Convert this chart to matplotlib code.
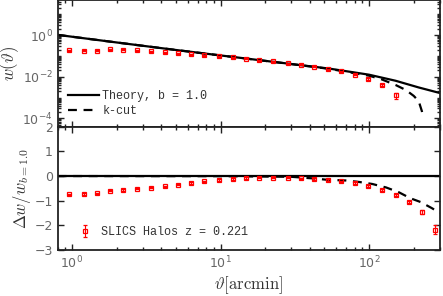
import numpy as np
import matplotlib
matplotlib.use("Agg")
import matplotlib.pyplot as plt
from matplotlib.ticker import LogLocator, NullFormatter, FixedLocator

# ---- data ----
theta_data = [0.95, 1.2, 1.47, 1.8, 2.22, 2.72, 3.43, 4.21, 5.17, 6.35, 7.79, 9.8,
              12.1, 14.8, 18.2, 22.5, 28.4, 34.9, 42.9, 52.6, 64.7, 80.6, 98.9,
              122.7, 151, 185, 227, 279]
w_data = [0.19, 0.176, 0.176, 0.21, 0.196, 0.19, 0.164, 0.147, 0.136, 0.122, 0.11,
          0.0946, 0.0847, 0.0725, 0.0628, 0.0544, 0.0436, 0.0373, 0.0299, 0.0232,
          0.018, 0.0123, 0.00767, 0.00408, 0.0013]
w_err = [0.012, 0.011, 0.011, 0.013, 0.012, 0.012, 0.01, 0.009, 0.008, 0.007, 0.006,
         0.005, 0.0045, 0.004, 0.0035, 0.003, 0.0025, 0.002, 0.0017, 0.0014,
         0.0011, 0.0008, 0.0006, 0.0004, 0.0004]
dw_data = [-0.74, -0.73, -0.70, -0.59, -0.57, -0.51, -0.47, -0.42, -0.35, -0.28,
           -0.22, -0.15, -0.11, -0.08, -0.065, -0.065, -0.065, -0.09, -0.12, -0.16,
           -0.22, -0.28, -0.42, -0.57, -0.78, -1.04, -1.46, -2.17]
dw_err = [0.03, 0.03, 0.03, 0.03, 0.03, 0.03, 0.03, 0.03, 0.03, 0.03, 0.03, 0.03,
          0.03, 0.03, 0.03, 0.03, 0.03, 0.03, 0.03, 0.03, 0.03, 0.035, 0.04, 0.04,
          0.045, 0.05, 0.07, 0.18]

theta_th = [0.8, 1.0, 2.0, 5.0, 10.0, 27.7, 54.0, 100.0, 151.0, 216.0, 300.0]
w_th = [1.02, 0.83, 0.44, 0.192, 0.105, 0.0436, 0.0245, 0.0125, 0.0064, 0.00305, 0.00165]

theta_kc = [0.8, 1.0, 2.0, 5.0, 10.0, 27.7, 54.0, 100.0, 122.0, 151.0, 177.0, 200.0, 216.0, 227.0, 231.0]
w_kc = [1.02, 0.83, 0.44, 0.192, 0.105, 0.0433, 0.0238, 0.0112, 0.0074, 0.0040, 0.0023,
        0.0012, 0.00067, 0.00022, 0.00011]

theta_kc_r = [0.8, 1.0, 10.0, 30.0, 43.0, 52.0, 70.0, 86.0, 105.0, 130.0, 158.0, 190.0, 222.0, 265.0, 300.0]
dw_kc = [0.0, 0.0, -0.005, -0.03, -0.1, -0.15, -0.18, -0.24, -0.32, -0.46, -0.65, -0.9, -1.05, -1.3, -1.5]

theta_zero = [0.8, 300.0]
dw_zero = [0.0, 0.0]

# ---- figure ----
plt.rcParams['mathtext.fontset'] = 'cm'
fig = plt.figure(figsize=(4.43, 2.96), dpi=100)
ax1 = fig.add_axes([0.13, 0.572, 0.863, 0.428])
ax2 = fig.add_axes([0.13, 0.155, 0.863, 0.417], sharex=ax1)

tick_col = '#666666'
mono = ['Liberation Mono', 'DejaVu Sans Mono']

ax1.plot(theta_th, w_th, color='black', lw=1.6, label='Theory, b = 1.0')
ax1.plot(theta_kc, w_kc, color='black', lw=1.6, ls=(0, (4, 3)), label='k-cut')
n = len(w_data)
ax1.errorbar(theta_data[:n], w_data, yerr=w_err, fmt='s', ms=3.5, mfc='none',
             mec='red', ecolor='red', elinewidth=0.8, capsize=1.2, mew=0.9)
ax1.set_xscale('log')
ax1.set_yscale('log')
ax1.set_xlim(0.8, 300)
ax1.set_ylim(4e-5, 48)
ax1.yaxis.set_major_locator(FixedLocator([1e-4, 1e-2, 1e0]))
ax1.yaxis.set_minor_locator(LogLocator(base=10, subs=np.arange(1, 10), numticks=30))
ax1.yaxis.set_minor_formatter(NullFormatter())
ax1.set_ylabel(r'$w(\vartheta)$', fontsize=12, color='#333333', labelpad=1)
leg1 = ax1.legend(loc='lower left', frameon=False, prop={'family': mono, 'size': 8.5},
                  handlelength=2.6, handletextpad=0.3, labelspacing=0.3,
                  bbox_to_anchor=(0.0, -0.01))
for t in leg1.get_texts():
    t.set_color('#333333')
plt.setp(ax1.get_xticklabels(), visible=False)

ax2.plot(theta_zero, dw_zero, color='black', lw=1.6)
ax2.plot(theta_kc_r, dw_kc, color='black', lw=1.6, ls=(0, (4, 3)))
ax2.errorbar(theta_data, dw_data, yerr=dw_err, fmt='s', ms=3.5, mfc='none',
             mec='red', ecolor='red', elinewidth=0.8, capsize=1.2, mew=0.9,
             label='SLICS Halos z = 0.221')
ax2.set_ylim(-3, 2)
ax2.set_yticks([-3, -2, -1, 0, 1, 2])
ax2.set_ylabel(r'$\Delta w/w_{b=1.0}$', fontsize=12, color='#333333', labelpad=1)
ax2.set_xlabel(r'$\vartheta[\mathrm{arcmin}]$', fontsize=12, color='#333333', labelpad=2)
leg2 = ax2.legend(loc='lower left', frameon=False, prop={'family': mono, 'size': 8.5},
                  handlelength=1.5, handletextpad=0.6, bbox_to_anchor=(0.02, 0.01))
for t in leg2.get_texts():
    t.set_color('#333333')

for ax in (ax1, ax2):
    ax.tick_params(which='both', direction='in', top=True, right=True,
                   colors='#222222', labelcolor=tick_col, labelsize=9, width=1)
    ax.tick_params(which='major', length=4)
    ax.tick_params(which='minor', length=2.2)
    for s in ax.spines.values():
        s.set_linewidth(1.3)
        s.set_color('#222222')

fig.savefig('out.png', dpi=100)
